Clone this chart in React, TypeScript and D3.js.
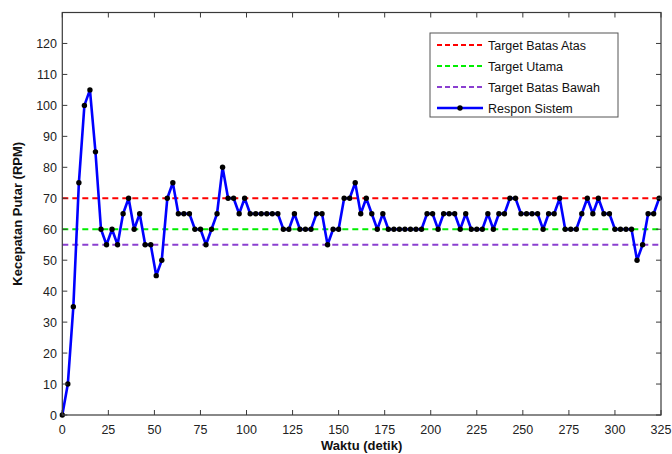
import React from "react";
import * as d3 from "d3";

const timeSec: number[] = [
  0, 3, 6, 9, 12, 15, 18, 21, 24, 27, 30, 33, 36, 39, 42, 45, 48, 51, 54, 57,
  60, 63, 66, 69, 72, 75, 78, 81, 84, 87, 90, 93, 96, 99, 102, 105, 108, 111, 114, 117,
  120, 123, 126, 129, 132, 135, 138, 141, 144, 147, 150, 153, 156, 159, 162, 165, 168, 171, 174, 177,
  180, 183, 186, 189, 192, 195, 198, 201, 204, 207, 210, 213, 216, 219, 222, 225, 228, 231, 234, 237,
  240, 243, 246, 249, 252, 255, 258, 261, 264, 267, 270, 273, 276, 279, 282, 285, 288, 291, 294, 297,
  300, 303, 306, 309, 312, 315, 318, 321, 324,
];

const responRpm: number[] = [
  0, 10, 35, 75, 100, 105, 85, 60, 55, 60, 55, 65, 70, 60, 65, 55, 55, 45, 50, 70,
  75, 65, 65, 65, 60, 60, 55, 60, 65, 80, 70, 70, 65, 70, 65, 65, 65, 65, 65, 65,
  60, 60, 65, 60, 60, 60, 65, 65, 55, 60, 60, 70, 70, 75, 65, 70, 65, 60, 65, 60,
  60, 60, 60, 60, 60, 60, 65, 65, 60, 65, 65, 65, 60, 65, 60, 60, 60, 65, 60, 65,
  65, 70, 70, 65, 65, 65, 65, 60, 65, 65, 70, 60, 60, 60, 65, 70, 65, 70, 65, 65,
  60, 60, 60, 60, 50, 55, 65, 65, 70,
];

const targetNames: string[] = ["Target Batas Atas", "Target Utama", "Target Batas Bawah"];
const targetValues: number[] = [70, 60, 55];
const targetColors: string[] = ["#ff0000", "#00ee00", "#8a3fd0"];
const responName = "Respon Sistem";

const xTicks: number[] = [0, 25, 50, 75, 100, 125, 150, 175, 200, 225, 250, 275, 300, 325];
const yTicks: number[] = [0, 10, 20, 30, 40, 50, 60, 70, 80, 90, 100, 110, 120];

const xLabel = "Waktu (detik)";
const yLabel = "Kecepatan Putar (RPM)";

const L = 62.3, R = 661, T = 12.5, B = 415;
const FONT = "'Liberation Sans', Arial, sans-serif";

export default function App() {
  const x = d3.scaleLinear().domain([0, 325]).range([L, R]);
  const y = d3.scaleLinear().domain([0, 130]).range([B, T]);
  const pts = timeSec.map((t, i) => [t, responRpm[i]] as [number, number]);
  const line = d3.line<[number, number]>().x((d) => x(d[0])).y((d) => y(d[1]));
  const tl = 5;
  const axisColor = "#3a3a3a";

  const legX = 430, legY = 33, legW = 188, legH = 84;
  const rowY = (i: number) => legY + 12 + i * 21;

  return (
    <div style={{ position: "fixed", left: 0, top: 0 }}>
      <svg width={672} height={454} style={{ display: "block", background: "#fff" }}>
        <rect x={0} y={0} width={672} height={454} fill="#fff" />
        {/* reference lines */}
        {targetValues.map((v, i) => (
          <line key={"t" + i} x1={L} x2={R} y1={y(v)} y2={y(v)} stroke={targetColors[i]}
            strokeWidth={2} strokeDasharray="6,4" />
        ))}
        {/* response */}
        <path d={line(pts) || ""} fill="none" stroke="#0000ff" strokeWidth={2.6} strokeLinejoin="round" />
        {pts.map((d, i) => (
          <circle key={"p" + i} cx={x(d[0])} cy={y(d[1])} r={2.7} fill="#000" />
        ))}
        {/* frame */}
        <rect x={L} y={T} width={R - L} height={B - T} fill="none" stroke={axisColor} strokeWidth={1.2} />
        {xTicks.map((t) => (
          <g key={"xt" + t}>
            <line x1={x(t)} x2={x(t)} y1={B} y2={B - tl} stroke={axisColor} strokeWidth={1} />
            <line x1={x(t)} x2={x(t)} y1={T} y2={T + tl} stroke={axisColor} strokeWidth={1} />
            <text x={x(t)} y={434} textAnchor="middle" fontFamily={FONT} fontSize={12.5} fill="#222">{t}</text>
          </g>
        ))}
        {yTicks.map((v) => (
          <g key={"yt" + v}>
            <line x1={L} x2={L + tl} y1={y(v)} y2={y(v)} stroke={axisColor} strokeWidth={1} />
            <line x1={R} x2={R - tl} y1={y(v)} y2={y(v)} stroke={axisColor} strokeWidth={1} />
            <text x={57} y={y(v)} dy="0.36em" textAnchor="end" fontFamily={FONT} fontSize={12.5} fill="#222">{v}</text>
          </g>
        ))}
        <text x={(L + R) / 2} y={450} textAnchor="middle" fontFamily={FONT} fontSize={13} fontWeight="bold" fill="#111">{xLabel}</text>
        <text transform={`translate(22,${(T + B) / 2}) rotate(-90)`} textAnchor="middle" fontFamily={FONT}
          fontSize={13} fontWeight="bold" fill="#111">{yLabel}</text>
        {/* legend */}
        <rect x={legX} y={legY} width={legW} height={legH} fill="#fff" stroke="#555" strokeWidth={1} />
        {targetNames.map((n, i) => (
          <g key={"lg" + i}>
            <line x1={437} x2={483} y1={rowY(i)} y2={rowY(i)} stroke={targetColors[i]} strokeWidth={2} strokeDasharray="5,3" />
            <text x={488} y={rowY(i)} dy="0.36em" fontFamily={FONT} fontSize={12.5} fill="#111">{n}</text>
          </g>
        ))}
        <line x1={437} x2={483} y1={rowY(3)} y2={rowY(3)} stroke="#0000ff" strokeWidth={2.6} />
        <circle cx={460} cy={rowY(3)} r={2.7} fill="#000" />
        <text x={488} y={rowY(3)} dy="0.36em" fontFamily={FONT} fontSize={12.5} fill="#111">{responName}</text>
      </svg>
    </div>
  );
}
